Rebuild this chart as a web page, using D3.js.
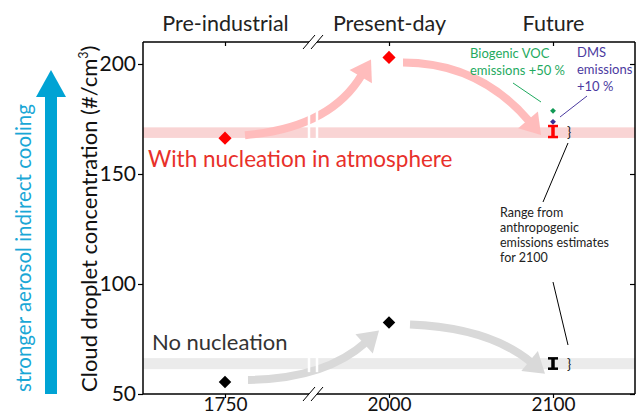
<!DOCTYPE html>
<html>
<head>
<meta charset="utf-8">
<script src="https://cdn.jsdelivr.net/npm/d3@7"></script>
<style>
  body { margin: 0; background: #fff; }
  text { font-family: Lato, "Open Sans", sans-serif; }
</style>
</head>
<body>
<div id="chart"></div>
<script>
const width = 637, height = 416;
const margin = { top: 42, right: 2, bottom: 22, left: 143 };
const plotW = width - margin.left - margin.right;
const plotH = height - margin.top - margin.bottom;

// data
const years = ["1750", "2000", "2100"];
const periods = ["Pre-industrial", "Present-day", "Future"];
const yTicks = [50, 100, 150, 200];
const withNuc = [166.3, 203];          // 1750, 2000
const noNuc = [55.5, 82.5];
const withNucFuture = [166.8, 171.8];  // range for 2100
const noNucFuture = [61.5, 66.2];
const withNucBand = [166.4, 171.2];
const noNucBand = [61.3, 66.3];
const vocFuture = 178.7;
const dmsFuture = 173.7;

const svg = d3.select("#chart").append("svg")
    .attr("width", width)
    .attr("height", height);

const g = svg.append("g")
    .attr("transform", `translate(${margin.left}, ${margin.top})`);

const x = d3.scalePoint().domain(years).range([0, plotW]).padding(0.5);
const y = d3.scaleLinear().domain([50, 210]).range([plotH, 0]);

const breakX = (x("1750") + x("2000")) / 2 + 6;

// bands
g.append("rect")
    .attr("x", 0).attr("width", plotW)
    .attr("y", y(withNucBand[1]))
    .attr("height", y(withNucBand[0]) - y(withNucBand[1]))
    .attr("fill", "#f9d4d4");
g.append("rect")
    .attr("x", 0).attr("width", plotW)
    .attr("y", y(noNucBand[1]))
    .attr("height", y(noNucBand[0]) - y(noNucBand[1]))
    .attr("fill", "#ebebeb");

// curved arrows
function curvedArrow(p0, c, p1, color) {
    const dx = p1[0] - c[0], dy = p1[1] - c[1];
    const len = Math.hypot(dx, dy);
    const ux = dx / len, uy = dy / len;
    const headL = 20, headW = 13;
    const bx = p1[0] - ux * headL, by = p1[1] - uy * headL;
    const path = d3.path();
    path.moveTo(p0[0], p0[1]);
    path.quadraticCurveTo(c[0], c[1], bx + ux * 2, by + uy * 2);
    g.append("path")
        .attr("d", path.toString())
        .attr("fill", "none")
        .attr("stroke", color)
        .attr("stroke-width", 8);
    g.append("polygon")
        .attr("points", [
            [p1[0], p1[1]],
            [bx - uy * headW, by + ux * headW],
            [bx + uy * headW, by - ux * headW]
        ].map(p => p.join(",")).join(" "))
        .attr("fill", color);
}

const pink = "#ffbcbc", grey = "#d9d9d9";
curvedArrow([x("1750") + 20, y(withNuc[0]) - 3],
            [x("1750") + 105, y(withNuc[0]) - 10],
            [x("2000") - 18, y(withNuc[1]) + 2], pink);
curvedArrow([x("2000") + 14, y(withNuc[1]) + 5],
            [x("2000") + 90, y(withNuc[1]) + 5],
            [x("2100") - 12, y(withNucFuture[0]) - 2], pink);
curvedArrow([x("1750") + 23, y(noNuc[0]) - 2],
            [x("1750") + 100, y(noNuc[0]) - 3],
            [x("2000") - 10, y(noNuc[1]) + 8], grey);
curvedArrow([x("2000") + 21, y(noNuc[1]) + 2],
            [x("2000") + 100, y(noNuc[1]) + 5],
            [x("2100") - 8, y(noNucFuture[0]) + 5], grey);

// white break strokes through bands and arrows
[[y(withNucBand[0]) + 3, y(withNucBand[1]) - 30], [y(noNucBand[0]) + 3, y(noNucBand[1]) - 10]]
    .forEach(([y0, y1]) => {
        [breakX - 4, breakX + 4].forEach(bx => {
            g.append("line")
                .attr("x1", bx).attr("x2", bx)
                .attr("y1", y0).attr("y2", y1)
                .attr("stroke", "#fff").attr("stroke-width", 2.5);
        });
    });

// diamonds
const diamond = d3.symbol().type(d3.symbolDiamond2);
g.selectAll(".dn")
    .data(withNuc)
    .enter().append("path")
    .attr("transform", (d, i) => `translate(${x(years[i])}, ${y(d)})`)
    .attr("d", diamond.size(110)())
    .attr("fill", "#ff0000");
g.selectAll(".dk")
    .data(noNuc)
    .enter().append("path")
    .attr("transform", (d, i) => `translate(${x(years[i])}, ${y(d)})`)
    .attr("d", diamond.size(100)())
    .attr("fill", "#000");
g.append("path")
    .attr("transform", `translate(${x("2100")}, ${y(vocFuture)})`)
    .attr("d", diamond.size(22)())
    .attr("fill", "#119955");
g.append("path")
    .attr("transform", `translate(${x("2100")}, ${y(dmsFuture)})`)
    .attr("d", diamond.size(22)())
    .attr("fill", "#3b2e96");

// error bars
function errBar(range, color) {
    const cx = x("2100");
    g.append("line")
        .attr("x1", cx).attr("x2", cx)
        .attr("y1", y(range[0])).attr("y2", y(range[1]))
        .attr("stroke", color).attr("stroke-width", 3.5);
    range.forEach(v => {
        g.append("line")
            .attr("x1", cx - 5).attr("x2", cx + 5)
            .attr("y1", y(v)).attr("y2", y(v))
            .attr("stroke", color).attr("stroke-width", 2.5);
    });
}
errBar(withNucFuture, "#ff0000");
errBar(noNucFuture, "#000");

// braces
[withNucFuture, noNucFuture].forEach(r => {
    g.append("text")
        .attr("x", x("2100") + 14)
        .attr("y", (y(r[0]) + y(r[1])) / 2 + 5)
        .attr("font-size", "14px")
        .attr("fill", "#222")
        .text("}");
});

// axes
const yAxis = g.append("g")
    .call(d3.axisLeft(y).tickValues(yTicks).tickSize(5).tickPadding(2));
yAxis.selectAll("text").attr("font-size", "21px").attr("fill", "#111");
g.append("g")
    .attr("transform", `translate(${plotW}, 0)`)
    .call(d3.axisRight(y).tickValues(yTicks).tickSize(-5).tickFormat(""));
const xAxis = g.append("g")
    .attr("transform", `translate(0, ${plotH})`)
    .call(d3.axisBottom(x).tickSize(4).tickPadding(0));
xAxis.selectAll("text")
    .attr("font-size", "19px")
    .attr("y", 17).attr("dy", null)
    .attr("fill", "#111");
const topAxis = g.append("g")
    .call(d3.axisTop(x).tickSize(-4).tickPadding(11)
        .tickFormat((d, i) => periods[i]));
topAxis.selectAll("text").attr("font-size", "21.5px").attr("fill", "#222");
g.selectAll(".domain").remove();
g.selectAll(".tick line").attr("stroke", "#000").attr("stroke-width", 1.2);

// frame with axis break
const frame = [
    [[0, 0], [0, plotH]],
    [[plotW, 0], [plotW, plotH]],
    [[0, 0], [breakX - 4, 0]],
    [[breakX + 4, 0], [plotW, 0]],
    [[0, plotH], [breakX - 4, plotH]],
    [[breakX + 4, plotH], [plotW, plotH]]
];
frame.forEach(([a, b]) => {
    g.append("line")
        .attr("x1", a[0]).attr("y1", a[1]).attr("x2", b[0]).attr("y2", b[1])
        .attr("stroke", "#000").attr("stroke-width", 1.5);
});
[0, plotH].forEach(yy => {
    [breakX - 4, breakX + 4].forEach(bx => {
        g.append("line")
            .attr("x1", bx - 6).attr("y1", yy + 7)
            .attr("x2", bx + 6).attr("y2", yy - 7)
            .attr("stroke", "#000").attr("stroke-width", 1);
    });
});

// labels
g.append("text")
    .attr("x", 5)
    .attr("y", y(withNucBand[0]) + 29)
    .attr("font-size", "22.5px")
    .attr("fill", "#e8302a")
    .text("With nucleation in atmosphere");
g.append("text")
    .attr("x", 9)
    .attr("y", y(noNucBand[1]) - 8)
    .attr("font-size", "22px")
    .attr("fill", "#333")
    .text("No nucleation");

const voc = g.append("text")
    .attr("font-size", "13px")
    .attr("fill", "#1faa5f");
["Biogenic VOC", "emissions +50 %"].forEach((t, i) => {
    voc.append("tspan").attr("x", 327).attr("y", 16 + i * 17).text(t);
});
g.append("line")
    .attr("x1", 370).attr("y1", 41).attr("x2", 398).attr("y2", 60)
    .attr("stroke", "#1faa5f").attr("stroke-width", 1);

const dms = g.append("text")
    .attr("font-size", "13px")
    .attr("fill", "#4b3aa0");
["DMS", "emissions", "+10 %"].forEach((t, i) => {
    dms.append("tspan").attr("x", 434).attr("y", 15 + i * 17).text(t);
});
g.append("line")
    .attr("x1", 444).attr("y1", 54).attr("x2", 417).attr("y2", 75)
    .attr("stroke", "#4b3aa0").attr("stroke-width", 1);

const range = g.append("text")
    .attr("font-size", "12.5px")
    .attr("fill", "#222");
["Range from", "anthropogenic", "emissions estimates", "for 2100"].forEach((t, i) => {
    range.append("tspan").attr("x", 357).attr("y", 175 + i * 15).text(t);
});
g.append("line")
    .attr("x1", 425).attr("y1", 101).attr("x2", 400).attr("y2", 160)
    .attr("stroke", "#000").attr("stroke-width", 1);
g.append("line")
    .attr("x1", 410).attr("y1", 240).attr("x2", 425).attr("y2", 303)
    .attr("stroke", "#000").attr("stroke-width", 1);

// y label
const yl = svg.append("text")
    .attr("transform", `translate(97, ${margin.top + plotH - 2}) rotate(-90)`)
    .attr("font-size", "22px")
    .attr("fill", "#111");
yl.append("tspan").text("Cloud droplet concentration (#/cm");
yl.append("tspan").attr("font-size", "12.5px").attr("dy", -9).text("3");
yl.append("tspan").attr("dy", 9).text(")");

// blue cooling arrow
const blue = "#00a3d4";
svg.append("rect")
    .attr("x", 45).attr("y", 95)
    .attr("width", 12).attr("height", margin.top + plotH - 95)
    .attr("fill", blue);
svg.append("polygon")
    .attr("points", "51,70 36,97 66,97")
    .attr("fill", blue);
svg.append("text")
    .attr("transform", `translate(31, ${margin.top + plotH - 2}) rotate(-90)`)
    .attr("font-size", "20.5px")
    .attr("fill", "#1aa7d6")
    .text("stronger aerosol indirect cooling");
</script>
</body>
</html>
